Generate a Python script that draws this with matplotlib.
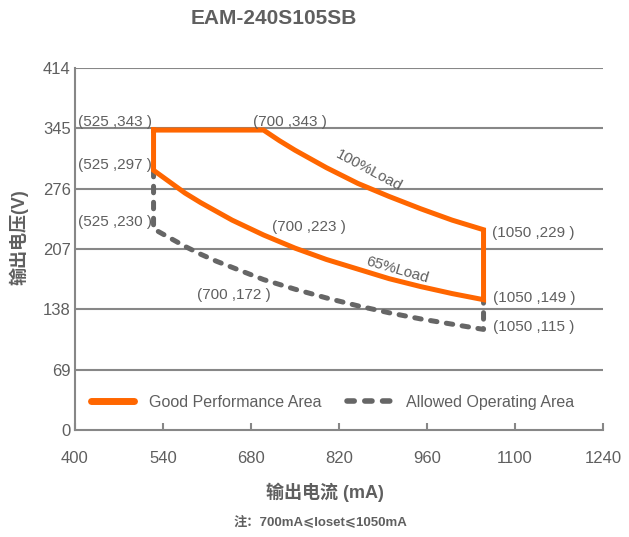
import matplotlib.pyplot as plt
from matplotlib.lines import Line2D

plt.rcParams['font.family'] = ['Liberation Sans', 'Noto Sans CJK SC', 'DejaVu Sans']

# operating window of the driver (current mA, voltage V)
full_load_i = [525, 700, 725, 750, 775, 800, 850, 900, 950, 1000, 1050]
full_load_v = [343, 343, 331, 320, 310, 300, 282, 267, 253, 240, 229]
part_load_i = [1050, 1000, 950, 900, 850, 800, 750, 700, 650, 625, 600, 575, 550, 525]
part_load_v = [149, 156, 164, 173, 184, 195, 208, 223, 240, 250, 260, 271, 284, 297]
allowed_i = [525, 525, 550, 575, 600, 625, 650, 700, 750, 800, 850, 900, 950, 1000, 1050, 1050]
allowed_v = [297, 230, 220, 210, 201, 193, 186, 172, 161, 151, 142, 134, 127, 121, 115, 149]

x_ticks = [400, 540, 680, 820, 960, 1100, 1240]
y_ticks = [0, 69, 138, 207, 276, 345, 414]

# corner labels: (text, x, y)
corner_labels = [
    ("(525 ,343 )", 405, 352), ("(700 ,343 )", 683, 352),
    ("(525 ,297 )", 405, 303), ("(525 ,230 )", 405, 238),
    ("(700 ,223 )", 713, 232), ("(700 ,172 )", 594, 154),
    ("(1050 ,229 )", 1063, 225), ("(1050 ,149 )", 1065, 151),
    ("(1050 ,115 )", 1065, 118),
]

orange = '#FF6600'
grey = '#666666'
grid_grey = '#878787'
text_grey = '#5f5f5f'
dash = (0, (1.3, 1.9))

fig = plt.figure(figsize=(6.29, 5.37), dpi=100)
ax = fig.add_axes([0.1192, 0.1993, 0.8394, 0.6741])

for y in y_ticks[1:]:
    ax.axhline(y, color=grid_grey, lw=1.5, zorder=1)

ax.plot(allowed_i, allowed_v, color=grey, lw=3.6, ls=dash,
        dash_capstyle='round', zorder=2)

good_i = full_load_i + part_load_i + [525]
good_v = full_load_v + part_load_v + [343]
ax.plot(good_i, good_v, color=orange, lw=3.6, solid_joinstyle='miter', zorder=3)

for txt, x, y in corner_labels:
    ax.text(x, y, txt, fontsize=11, color=text_grey, ha='left', va='center')

ax.text(868, 297, "100%Load", fontsize=11, color=text_grey, rotation=-28,
        ha='center', va='center')
ax.text(912, 183, "65%Load", fontsize=11, color=text_grey, rotation=-16,
        ha='center', va='center')

ax.set_xlim(400, 1240)
ax.set_ylim(0, 414)
ax.set_xticks(x_ticks)
ax.set_yticks(y_ticks)
ax.tick_params(axis='x', direction='in', length=5, width=1.5, color=grid_grey,
               labelsize=12, labelcolor=text_grey, pad=15)
ax.tick_params(axis='y', length=0, labelsize=12, labelcolor=text_grey, pad=3)
for side in ['top', 'right']:
    ax.spines[side].set_visible(False)
for side in ['left', 'bottom']:
    ax.spines[side].set_color(grid_grey)
    ax.spines[side].set_linewidth(1.5)

handles = [
    Line2D([], [], color=orange, lw=5, solid_capstyle='round'),
    Line2D([], [], color=grey, lw=4, ls=dash, dash_capstyle='round'),
]
ax.legend(handles, ["Good Performance Area", "Allowed Operating Area"],
          loc='center left', bbox_to_anchor=(0.003, 0.077), ncol=2, frameon=False,
          fontsize=11.5, labelcolor=text_grey, handlelength=2.7,
          columnspacing=1.6, handletextpad=0.95)

fig.text(0.436, 0.965, "EAM-240S105SB", fontsize=15, fontweight='bold',
         color=text_grey, ha='center', va='center')
fig.text(0.517, 0.084, "输出电流 (mA)", fontsize=13, fontweight='bold',
         color=text_grey, ha='center', va='center')
fig.text(0.030, 0.5587, "输出电压(V)", fontsize=13, fontweight='bold',
         color=text_grey, ha='center', va='center', rotation=90)
fig.text(0.509, 0.028, "注：700mA⩽Ioset⩽1050mA", fontsize=9.5, fontweight='bold',
         color=text_grey, ha='center', va='center')

fig.savefig('out.png', dpi=100)
